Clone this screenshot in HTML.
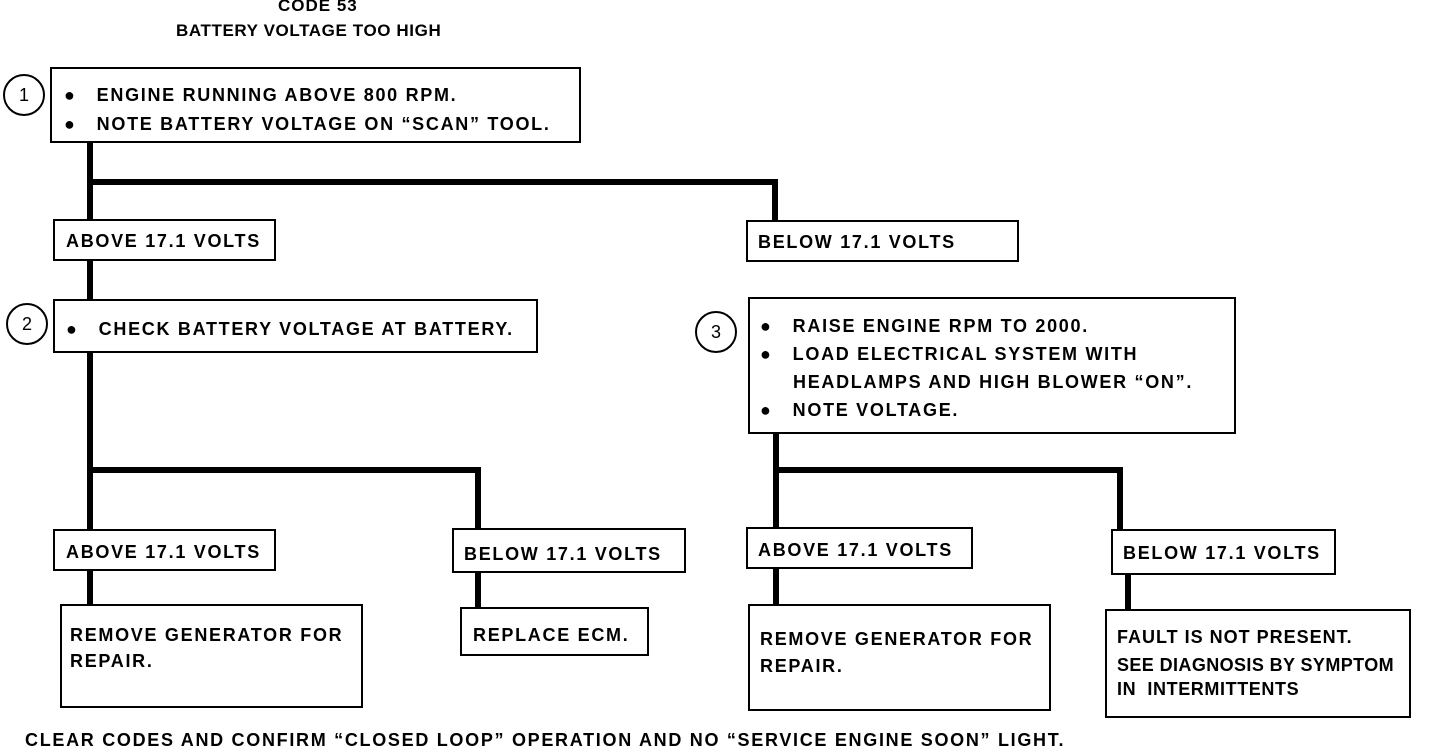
<!DOCTYPE html>
<html><head><style>
body{margin:0;width:1440px;height:750px;background:#fff;position:relative;overflow:hidden;font-family:"Liberation Sans",sans-serif;font-weight:bold;color:#000}
.b{position:absolute;border:2px solid #000;box-sizing:border-box;background:#fff}
.t{position:absolute;font-size:18px;white-space:nowrap;line-height:1;letter-spacing:1.7px}
.l{position:absolute;background:#000}
.c{position:absolute;border:2px solid #000;border-radius:50%;box-sizing:border-box;width:42px;height:42px;font-size:18px;text-align:center;line-height:38px;font-weight:normal}
</style></head><body>
<div class="t" style="left:278px;top:-3px;font-size:17px;letter-spacing:1px">CODE 53</div>
<div class="t" style="left:176px;top:22px;font-size:17px;letter-spacing:0.6px">BATTERY VOLTAGE TOO HIGH</div>

<div class="l" style="left:87px;top:141px;width:6px;height:80px"></div>
<div class="l" style="left:87px;top:179px;width:691px;height:6px"></div>
<div class="l" style="left:772px;top:179px;width:6px;height:42px"></div>
<div class="l" style="left:87px;top:259px;width:6px;height:42px"></div>
<div class="l" style="left:87px;top:351px;width:6px;height:180px"></div>
<div class="l" style="left:87px;top:467px;width:394px;height:6px"></div>
<div class="l" style="left:475px;top:467px;width:6px;height:63px"></div>
<div class="l" style="left:87px;top:568px;width:6px;height:38px"></div>
<div class="l" style="left:475px;top:570px;width:6px;height:39px"></div>
<div class="l" style="left:773px;top:432px;width:6px;height:97px"></div>
<div class="l" style="left:773px;top:467px;width:350px;height:6px"></div>
<div class="l" style="left:1117px;top:467px;width:6px;height:64px"></div>
<div class="l" style="left:773px;top:567px;width:6px;height:39px"></div>
<div class="l" style="left:1125px;top:573px;width:6px;height:38px"></div>

<div class="c" style="left:3px;top:74px">1</div>
<div class="b" style="left:50px;top:67px;width:531px;height:76px"></div>
<div class="t" style="left:64px;top:86px">●&nbsp;&nbsp; ENGINE RUNNING ABOVE 800 RPM.</div>
<div class="t" style="left:64px;top:115px">●&nbsp;&nbsp; NOTE BATTERY VOLTAGE ON “SCAN” TOOL.</div>

<div class="b" style="left:53px;top:219px;width:223px;height:42px"></div>
<div class="t" style="left:66px;top:232px">ABOVE 17.1 VOLTS</div>
<div class="b" style="left:746px;top:220px;width:273px;height:42px"></div>
<div class="t" style="left:758px;top:233px">BELOW 17.1 VOLTS</div>

<div class="c" style="left:6px;top:303px">2</div>
<div class="b" style="left:53px;top:299px;width:485px;height:54px"></div>
<div class="t" style="left:66px;top:320px">●&nbsp;&nbsp; CHECK BATTERY VOLTAGE AT BATTERY.</div>

<div class="c" style="left:695px;top:311px">3</div>
<div class="b" style="left:748px;top:297px;width:488px;height:137px"></div>
<div class="t" style="left:760px;top:317px">●&nbsp;&nbsp; RAISE ENGINE RPM TO 2000.</div>
<div class="t" style="left:760px;top:345px">●&nbsp;&nbsp; LOAD ELECTRICAL SYSTEM WITH</div>
<div class="t" style="left:793px;top:373px">HEADLAMPS AND HIGH BLOWER “ON”.</div>
<div class="t" style="left:760px;top:401px">●&nbsp;&nbsp; NOTE VOLTAGE.</div>

<div class="b" style="left:53px;top:529px;width:223px;height:42px"></div>
<div class="t" style="left:66px;top:543px">ABOVE 17.1 VOLTS</div>
<div class="b" style="left:452px;top:528px;width:234px;height:45px"></div>
<div class="t" style="left:464px;top:545px">BELOW 17.1 VOLTS</div>
<div class="b" style="left:746px;top:527px;width:227px;height:42px"></div>
<div class="t" style="left:758px;top:541px">ABOVE 17.1 VOLTS</div>
<div class="b" style="left:1111px;top:529px;width:225px;height:46px"></div>
<div class="t" style="left:1123px;top:544px">BELOW 17.1 VOLTS</div>

<div class="b" style="left:60px;top:604px;width:303px;height:104px"></div>
<div class="t" style="left:70px;top:626px">REMOVE GENERATOR FOR</div>
<div class="t" style="left:70px;top:652px">REPAIR.</div>
<div class="b" style="left:460px;top:607px;width:189px;height:49px"></div>
<div class="t" style="left:473px;top:626px">REPLACE ECM.</div>
<div class="b" style="left:748px;top:604px;width:303px;height:107px"></div>
<div class="t" style="left:760px;top:630px">REMOVE GENERATOR FOR</div>
<div class="t" style="left:760px;top:657px">REPAIR.</div>
<div class="b" style="left:1105px;top:609px;width:306px;height:109px"></div>
<div class="t" style="left:1117px;top:628px;letter-spacing:1px">FAULT IS NOT PRESENT.</div>
<div class="t" style="left:1117px;top:656px;letter-spacing:0.4px">SEE DIAGNOSIS BY SYMPTOM</div>
<div class="t" style="left:1117px;top:680px;letter-spacing:0.6px">IN&nbsp; INTERMITTENTS</div>

<div class="t" style="left:25px;top:731px">CLEAR CODES AND CONFIRM “CLOSED LOOP” OPERATION AND NO “SERVICE ENGINE SOON” LIGHT.</div>
</body></html>
